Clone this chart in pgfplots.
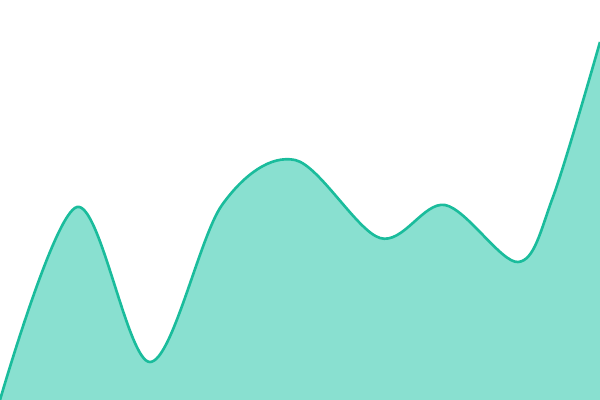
\documentclass[border=0pt]{standalone}
\usepackage{pgfplots}
\pgfplotsset{compat=1.18}
\definecolor{lineteal}{HTML}{1ABC9C}
\definecolor{fillteal}{HTML}{89E0D0}
\begin{document}
\begin{tikzpicture}
\pgfplotstableread{
x y
0 0
77 193
150 38
222 195
295 240
380 162
445 195
518 138
553 203
600 358
}\curvedata
\begin{axis}[%
  scale only axis,%
  width=6in, height=4in,%
  xmin=0, xmax=600, ymin=0, ymax=400,%
  hide axis,%
  clip=true%
]
%% area under the curve (pixel units, y from bottom)
\addplot[draw=none, fill=fillteal, smooth, tension=0.55]
table {\curvedata} \closedcycle;
%% the curve itself
\addplot[draw=lineteal, line width=1.9pt, smooth, tension=0.55]
table {\curvedata};
\end{axis}
\pgfresetboundingbox
\path (0,0) rectangle (6in,4in);
\end{tikzpicture}
\end{document}
